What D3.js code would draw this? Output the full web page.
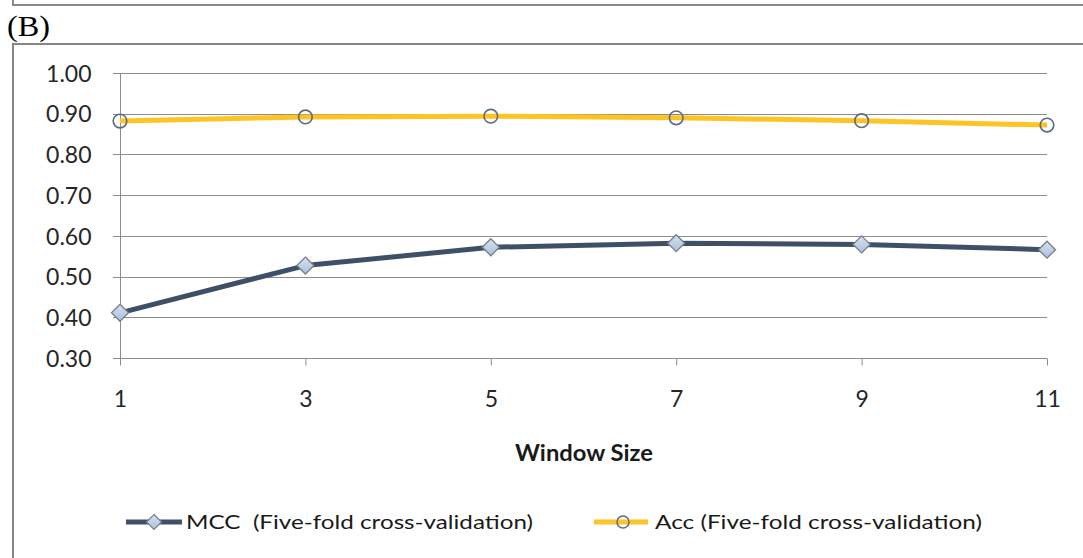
<!DOCTYPE html>
<html>
<head>
<meta charset="utf-8">
<script src="https://cdn.jsdelivr.net/npm/d3@7"></script>
<style>
  html, body { margin: 0; padding: 0; background: #fff; }
  svg { display: block; }
</style>
</head>
<body>
<svg id="chart" width="1083" height="558"></svg>
<script>
// Window sizes tested and the cross-validation scores for each
const windowSizes = ["1", "3", "5", "7", "9", "11"];
const mccValues = [0.411, 0.527, 0.572, 0.582, 0.579, 0.566];
const accValues = [0.882, 0.892, 0.894, 0.890, 0.883, 0.872];
const yTickValues = [0.30, 0.40, 0.50, 0.60, 0.70, 0.80, 0.90, 1.00];
const seriesNames = ["MCC  (Five-fold cross-validation)", "Acc (Five-fold cross-validation)"];

const svg = d3.select("#chart");
const FONT = "Lato, 'Open Sans', sans-serif";
const GRID = "#8c8c8c";

// Frame of the panel above and the panel label
svg.append("path")
  .attr("d", "M13,0 V5 H1083")
  .attr("fill", "none").attr("stroke", "#8a8a8a").attr("stroke-width", 2);
svg.append("text")
  .attr("x", 7).attr("y", 36)
  .attr("font-family", "'Liberation Serif', 'Times New Roman', serif")
  .attr("font-size", 29).attr("fill", "#000")
  .attr("textLength", 43).attr("lengthAdjust", "spacingAndGlyphs")
  .text("(B)");

// Chart frame
svg.append("path")
  .attr("d", "M13,558 V44 H1083")
  .attr("fill", "none").attr("stroke", "#868686").attr("stroke-width", 2);

// Scales
const x = d3.scalePoint().domain(windowSizes).range([120, 1047]).padding(0);
const y = d3.scaleLinear().domain([0.3, 1.0]).range([358, 73]);

// Horizontal gridlines (extend a little left of the axis as tick marks)
svg.append("g").selectAll("line")
  .data(yTickValues)
  .join("line")
  .attr("x1", 113).attr("x2", 1047)
  .attr("y1", d => Math.round(y(d)) + 0.5).attr("y2", d => Math.round(y(d)) + 0.5)
  .attr("stroke", GRID).attr("stroke-width", 1);

// Y axis
const yAxis = svg.append("g")
  .attr("transform", "translate(120.5,0)")
  .call(d3.axisLeft(y).tickValues(yTickValues).tickFormat(d3.format(".2f")).tickSize(0).tickPadding(29));
yAxis.select(".domain").attr("stroke", GRID).attr("d", `M0,${y(1.0)}V${y(0.3)}`);
yAxis.selectAll("text")
  .attr("font-family", FONT).attr("font-size", 23).attr("fill", "#262626")
  .attr("dy", "0.36em");

// X axis
const xAxis = svg.append("g")
  .attr("transform", `translate(0,${Math.round(y(0.3)) + 0.5})`)
  .call(d3.axisBottom(x).tickSize(7).tickPadding(25));
xAxis.select(".domain").remove();
xAxis.selectAll(".tick line").attr("stroke", GRID);
xAxis.selectAll("text")
  .attr("font-family", FONT).attr("font-size", 23).attr("fill", "#262626");

// Axis title
svg.append("text")
  .attr("x", 584).attr("y", 461)
  .attr("text-anchor", "middle")
  .attr("font-family", FONT).attr("font-size", 23).attr("font-weight", "bold")
  .attr("fill", "#1a1a1a")
  .attr("textLength", 138).attr("lengthAdjust", "spacingAndGlyphs")
  .text("Window Size");

// Lines
const line = d3.line().x((d, i) => x(windowSizes[i])).y(d => y(d));

svg.append("path")
  .datum(accValues)
  .attr("d", line)
  .attr("fill", "none").attr("stroke", "#fcc425").attr("stroke-width", 5)
  .attr("stroke-linejoin", "round");

svg.append("path")
  .datum(mccValues)
  .attr("d", line)
  .attr("fill", "none").attr("stroke", "#3e5068").attr("stroke-width", 5)
  .attr("stroke-linejoin", "round");

// Markers
const defs = svg.append("defs");
const grad = defs.append("linearGradient").attr("id", "diamondFill")
  .attr("x1", 0).attr("y1", 0).attr("x2", 0).attr("y2", 1);
grad.append("stop").attr("offset", "0%").attr("stop-color", "#d6e2f1");
grad.append("stop").attr("offset", "100%").attr("stop-color", "#a9c0de");

const diamond = s => `M0,${-s}L${s},0L0,${s}L${-s},0Z`;

svg.append("g").selectAll("path")
  .data(mccValues)
  .join("path")
  .attr("transform", (d, i) => `translate(${x(windowSizes[i])},${y(d)})`)
  .attr("d", diamond(8.5))
  .attr("fill", "url(#diamondFill)").attr("stroke", "#7a7f87").attr("stroke-width", 1.3);

svg.append("g").selectAll("circle")
  .data(accValues)
  .join("circle")
  .attr("cx", (d, i) => x(windowSizes[i])).attr("cy", d => y(d))
  .attr("r", 6.8)
  .attr("fill", "none").attr("stroke", "#5d6b7e").attr("stroke-width", 1.6);

// Legend
const legendY = 522;
const lg = svg.append("g");
lg.append("line").attr("x1", 126).attr("x2", 182).attr("y1", legendY).attr("y2", legendY)
  .attr("stroke", "#3e5068").attr("stroke-width", 5);
lg.append("path").attr("transform", `translate(154,${legendY})`).attr("d", diamond(7.5))
  .attr("fill", "url(#diamondFill)").attr("stroke", "#7a7f87").attr("stroke-width", 1.2);
lg.append("text").attr("x", 186).attr("y", legendY + 7)
  .attr("font-family", FONT).attr("font-size", 20).attr("fill", "#1a1a1a")
  .attr("textLength", 347).attr("lengthAdjust", "spacingAndGlyphs")
  .attr("xml:space", "preserve")
  .text(seriesNames[0]);

lg.append("line").attr("x1", 594).attr("x2", 648).attr("y1", legendY).attr("y2", legendY)
  .attr("stroke", "#fcc425").attr("stroke-width", 5);
lg.append("circle").attr("cx", 623).attr("cy", legendY).attr("r", 6)
  .attr("fill", "none").attr("stroke", "#5d6b7e").attr("stroke-width", 1.5);
lg.append("text").attr("x", 655).attr("y", legendY + 7)
  .attr("font-family", FONT).attr("font-size", 20).attr("fill", "#1a1a1a")
  .attr("textLength", 327).attr("lengthAdjust", "spacingAndGlyphs")
  .text(seriesNames[1]);
</script>
</body>
</html>
